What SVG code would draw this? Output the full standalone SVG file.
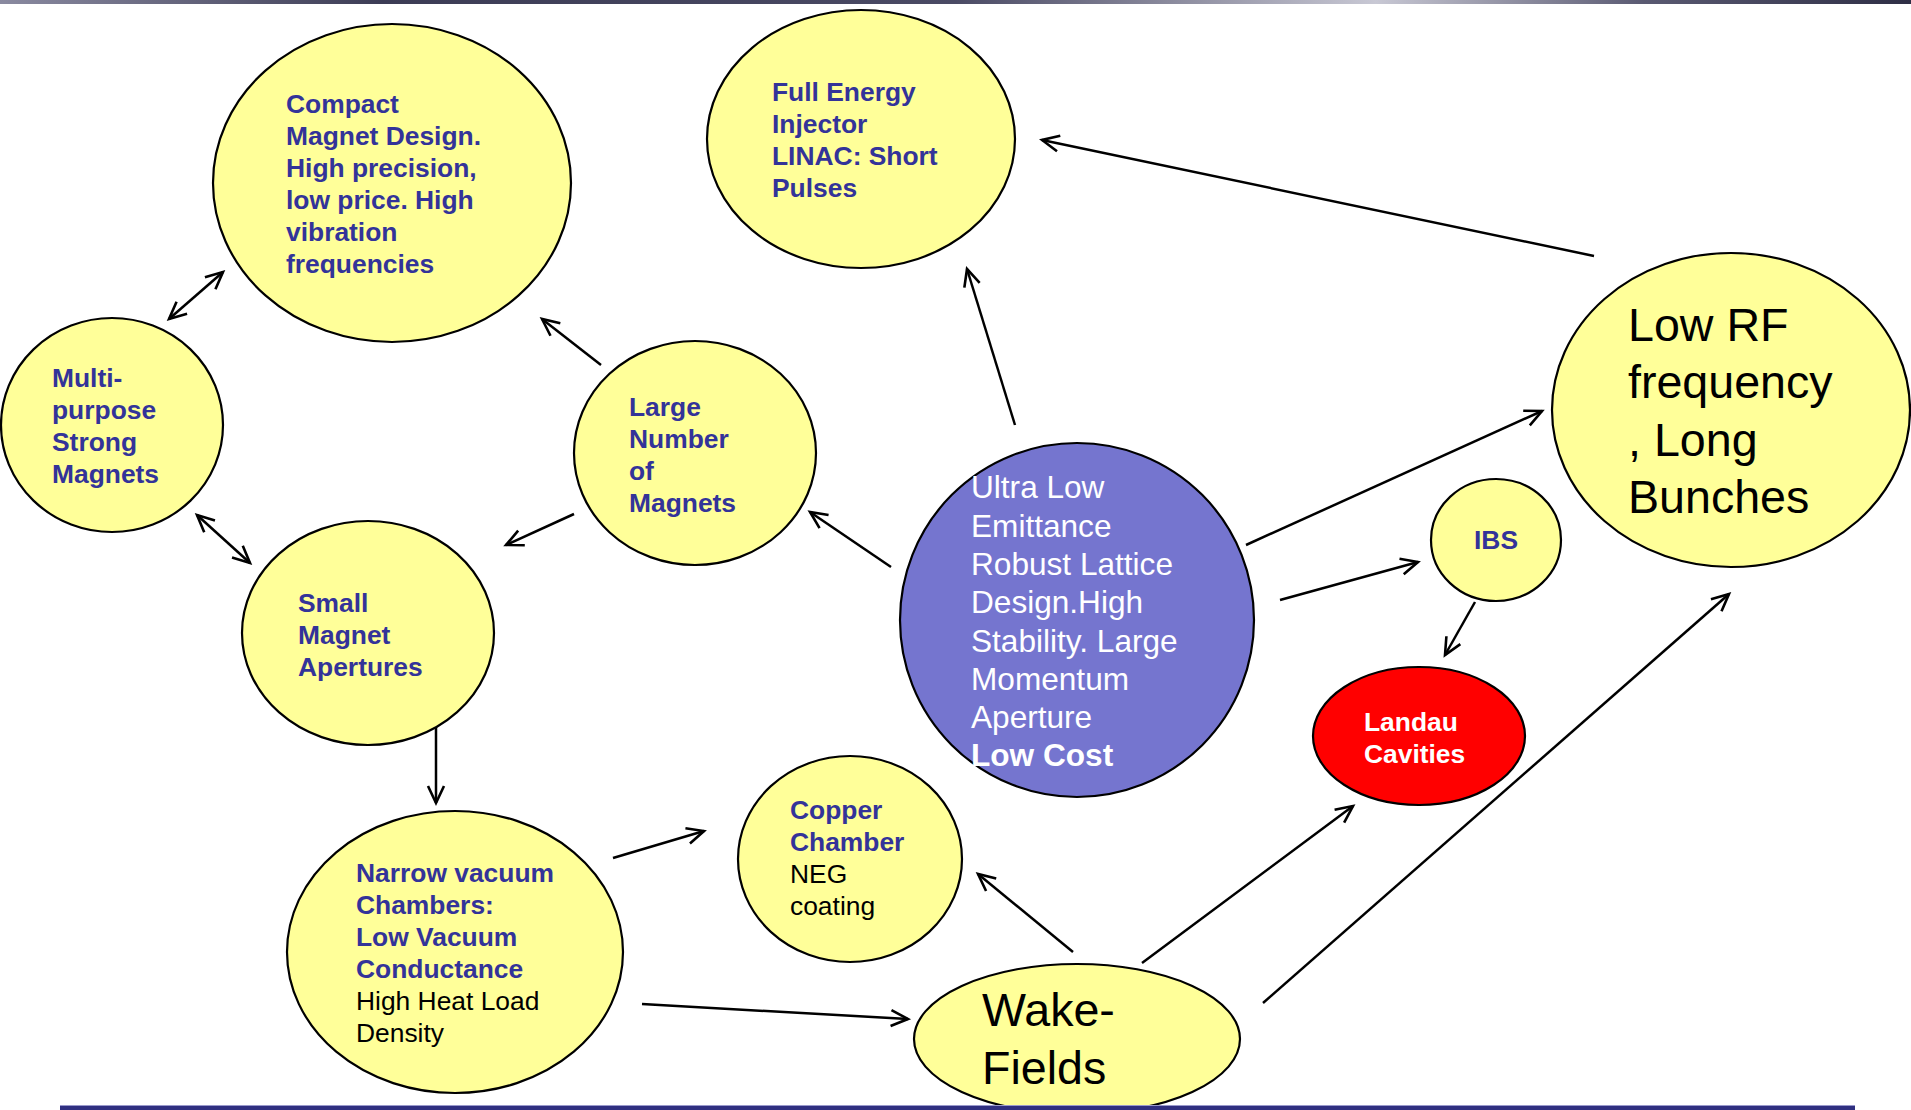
<svg xmlns="http://www.w3.org/2000/svg" width="1911" height="1110" viewBox="0 0 1911 1110">
<style>
.y{fill:#FFFF99;stroke:#000;stroke-width:2.2}
.p{fill:#7575CF;stroke:#000;stroke-width:2.2}
.r{fill:#FF0000;stroke:#000;stroke-width:2.2}
text{font-family:"Liberation Sans",Arial,sans-serif}
.b{font-weight:bold;font-size:26.4px;fill:#333399}
.bw{font-weight:bold;font-size:26.4px;fill:#fff}
.n{font-size:26.4px;fill:#000}
.big{font-size:46.6px;fill:#000}
.w{font-size:31.6px;fill:#fff}
.c line{stroke:#000;stroke-width:2.5;marker-end:url(#ah)}
.c line.d{marker-start:url(#ah)}
</style>
<defs>
<linearGradient id="tg" x1="0" x2="1" y1="0" y2="0">
<stop offset="0" stop-color="#8a8aa0"/>
<stop offset="0.2" stop-color="#3c3c55"/>
<stop offset="0.5" stop-color="#4a4a64"/>
<stop offset="0.72" stop-color="#c8c8d4"/>
<stop offset="0.86" stop-color="#5a5a72"/>
<stop offset="1" stop-color="#2e2e45"/>
</linearGradient>
<marker id="ah" markerUnits="userSpaceOnUse" viewBox="-20 -10 24 20" refX="0" refY="0" markerWidth="24" markerHeight="20" orient="auto-start-reverse">
<path d="M-17,-8 L0,0 L-17,8" fill="none" stroke="#000" stroke-width="2.6"/>
</marker>
</defs>
<rect width="1911" height="1110" fill="#fff"/>
<rect x="0" y="0" width="1911" height="4" fill="url(#tg)"/>

<g class="c" id="connectors">
<line class="d" x1="169" y1="319" x2="223" y2="272"/>
<line class="d" x1="197" y1="515" x2="250" y2="563"/>
<line x1="601" y1="365" x2="542" y2="319"/>
<line x1="574" y1="514" x2="506" y2="545"/>
<line x1="891" y1="567" x2="810" y2="512"/>
<line x1="1015" y1="425" x2="967" y2="269"/>
<line x1="1594" y1="256" x2="1042" y2="140"/>
<line x1="1246" y1="545" x2="1542" y2="411"/>
<line x1="1280" y1="600" x2="1418" y2="562"/>
<line x1="1475" y1="602" x2="1445" y2="655"/>
<line x1="436" y1="727" x2="436" y2="803"/>
<line x1="613" y1="858" x2="704" y2="831"/>
<line x1="642" y1="1004" x2="908" y2="1019"/>
<line x1="1073" y1="952" x2="978" y2="874"/>
<line x1="1142" y1="963" x2="1353" y2="806"/>
<line x1="1263" y1="1003" x2="1729" y2="594"/>
</g>

<g id="compact">
<ellipse class="y" cx="392" cy="183" rx="179" ry="159"/>
<text class="b"><tspan x="286" y="113">Compact</tspan><tspan x="286" y="145">Magnet Design.</tspan><tspan x="286" y="177">High precision,</tspan><tspan x="286" y="209">low price. High</tspan><tspan x="286" y="241">vibration</tspan><tspan x="286" y="273">frequencies</tspan></text>
</g>

<g id="fullenergy">
<ellipse class="y" cx="861" cy="139" rx="154" ry="129"/>
<text class="b"><tspan x="772" y="101">Full Energy</tspan><tspan x="772" y="133">Injector</tspan><tspan x="772" y="165">LINAC: Short</tspan><tspan x="772" y="197">Pulses</tspan></text>
</g>

<g id="lowrf">
<ellipse class="y" cx="1731" cy="410" rx="179" ry="157"/>
<text class="big"><tspan x="1628" y="341">Low RF</tspan><tspan x="1628" y="398">frequency</tspan><tspan x="1628" y="456">, Long</tspan><tspan x="1628" y="513">Bunches</tspan></text>
</g>

<g id="multipurpose">
<ellipse class="y" cx="112" cy="425" rx="111" ry="107"/>
<text class="b"><tspan x="52" y="387">Multi-</tspan><tspan x="52" y="419">purpose</tspan><tspan x="52" y="451">Strong</tspan><tspan x="52" y="483">Magnets</tspan></text>
</g>

<g id="small">
<ellipse class="y" cx="368" cy="633" rx="126" ry="112"/>
<text class="b"><tspan x="298" y="612">Small</tspan><tspan x="298" y="644">Magnet</tspan><tspan x="298" y="676">Apertures</tspan></text>
</g>

<g id="large">
<ellipse class="y" cx="695" cy="453" rx="121" ry="112"/>
<text class="b"><tspan x="629" y="416">Large</tspan><tspan x="629" y="448">Number</tspan><tspan x="629" y="480">of</tspan><tspan x="629" y="512">Magnets</tspan></text>
</g>

<g id="central">
<ellipse class="p" cx="1077" cy="620" rx="177" ry="177"/>
<text class="w"><tspan x="971" y="498">Ultra Low</tspan><tspan x="971" y="537">Emittance</tspan><tspan x="971" y="575">Robust Lattice</tspan><tspan x="971" y="613">Design.High</tspan><tspan x="971" y="652">Stability. Large</tspan><tspan x="971" y="690">Momentum</tspan><tspan x="971" y="728">Aperture</tspan><tspan x="971" y="766" font-weight="bold">Low Cost</tspan></text>
</g>

<g id="ibs">
<ellipse class="y" cx="1496" cy="540" rx="65" ry="61"/>
<text class="b" x="1496" y="549" text-anchor="middle">IBS</text>
</g>

<g id="landau">
<ellipse class="r" cx="1419" cy="736" rx="106" ry="69"/>
<text class="bw"><tspan x="1364" y="731">Landau</tspan><tspan x="1364" y="763">Cavities</tspan></text>
</g>

<g id="copper">
<ellipse class="y" cx="850" cy="859" rx="112" ry="103"/>
<text class="b"><tspan x="790" y="819">Copper</tspan><tspan x="790" y="851">Chamber</tspan></text>
<text class="n"><tspan x="790" y="883">NEG</tspan><tspan x="790" y="915">coating</tspan></text>
</g>

<g id="narrow">
<ellipse class="y" cx="455" cy="952" rx="168" ry="141"/>
<text class="b"><tspan x="356" y="882">Narrow vacuum</tspan><tspan x="356" y="914">Chambers:</tspan><tspan x="356" y="946">Low Vacuum</tspan><tspan x="356" y="978">Conductance</tspan></text>
<text class="n"><tspan x="356" y="1010">High Heat Load</tspan><tspan x="356" y="1042">Density</tspan></text>
</g>

<g id="wake">
<ellipse class="y" cx="1077" cy="1039" rx="163" ry="75"/>
<text class="big"><tspan x="982" y="1026">Wake-</tspan><tspan x="982" y="1084">Fields</tspan></text>
</g>

<rect x="60" y="1106" width="1795" height="4" fill="#2f2f80"/>
<rect x="60" y="1105" width="1795" height="1" fill="#9999cc"/>
</svg>
